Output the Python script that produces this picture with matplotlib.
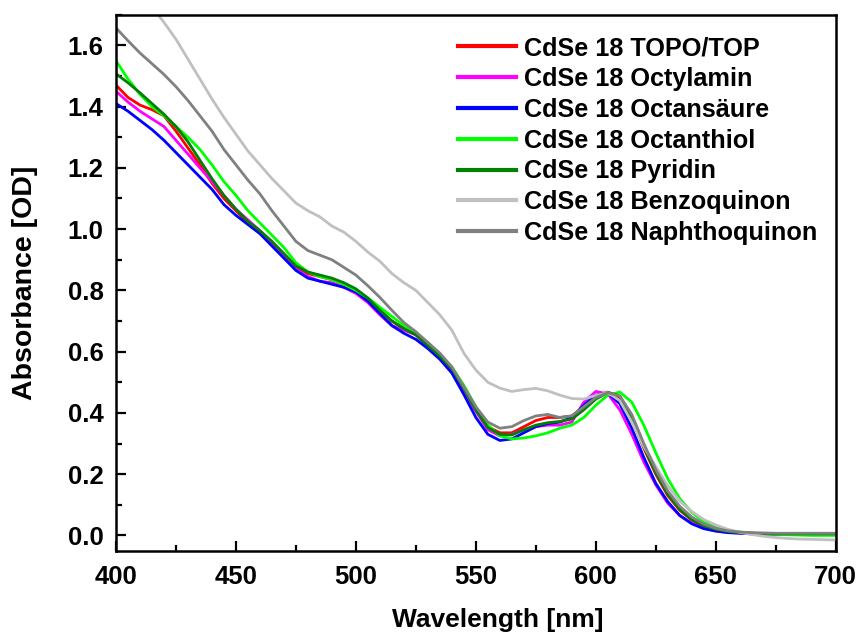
import matplotlib
matplotlib.use("Agg")
import matplotlib.pyplot as plt
from matplotlib.ticker import MultipleLocator

plt.rcParams['font.family'] = ['Liberation Sans', 'DejaVu Sans']
plt.rcParams['font.weight'] = 'bold'

# Wavelength grid in nm
wavelength = list(range(400, 701, 5))

labels = [
    "CdSe 18 TOPO/TOP",
    "CdSe 18 Octylamin",
    "CdSe 18 Octansäure",
    "CdSe 18 Octanthiol",
    "CdSe 18 Pyridin",
    "CdSe 18 Benzoquinon",
    "CdSe 18 Naphthoquinon",
]

topo_top = [1.47, 1.43, 1.405, 1.39, 1.37, 1.32, 1.265, 1.21, 1.15, 1.10, 1.06, 1.02, 0.99, 0.955, 0.915,
            0.875, 0.855, 0.845, 0.835, 0.82, 0.80, 0.77, 0.735, 0.70, 0.675, 0.655, 0.62, 0.585, 0.545, 0.48,
            0.41, 0.355, 0.335, 0.335, 0.355, 0.375, 0.385, 0.385, 0.39, 0.42, 0.455, 0.468, 0.45, 0.38, 0.285,
            0.20, 0.13, 0.082, 0.05, 0.03, 0.02, 0.013, 0.009, 0.007, 0.006, 0.005, 0.005, 0.004, 0.004, 0.004, 0.004]

octylamin = [1.45, 1.415, 1.385, 1.36, 1.335, 1.29, 1.245, 1.20, 1.155, 1.11, 1.065, 1.03, 0.995, 0.955, 0.91,
             0.87, 0.845, 0.83, 0.825, 0.81, 0.79, 0.76, 0.72, 0.685, 0.67, 0.655, 0.615, 0.58, 0.54, 0.475,
             0.405, 0.345, 0.325, 0.33, 0.345, 0.355, 0.36, 0.36, 0.37, 0.435, 0.47, 0.462, 0.41, 0.33, 0.24,
             0.165, 0.105, 0.065, 0.04, 0.024, 0.015, 0.01, 0.008, 0.006, 0.005, 0.005, 0.004, 0.004, 0.004, 0.004, 0.004]

octansaeure = [1.41, 1.385, 1.355, 1.325, 1.29, 1.25, 1.21, 1.17, 1.13, 1.08, 1.045, 1.015, 0.985, 0.945, 0.905,
               0.865, 0.84, 0.83, 0.82, 0.81, 0.795, 0.765, 0.725, 0.685, 0.66, 0.64, 0.61, 0.575, 0.53, 0.46,
               0.385, 0.33, 0.31, 0.315, 0.335, 0.355, 0.365, 0.37, 0.385, 0.425, 0.458, 0.465, 0.43, 0.35, 0.255,
               0.17, 0.11, 0.065, 0.038, 0.022, 0.014, 0.009, 0.007, 0.005, 0.004, 0.003, 0.003, 0.003, 0.003, 0.003, 0.003]

octanthiol = [1.55, 1.49, 1.44, 1.40, 1.37, 1.335, 1.30, 1.26, 1.21, 1.155, 1.11, 1.06, 1.02, 0.98, 0.94,
              0.89, 0.86, 0.845, 0.835, 0.82, 0.80, 0.775, 0.745, 0.715, 0.685, 0.66, 0.63, 0.59, 0.55, 0.49,
              0.42, 0.36, 0.325, 0.315, 0.318, 0.325, 0.335, 0.35, 0.36, 0.385, 0.425, 0.458, 0.468, 0.435, 0.36,
              0.27, 0.185, 0.12, 0.075, 0.045, 0.028, 0.017, 0.011, 0.007, 0.005, 0.003, 0.002, 0.001, 0.0, 0.0, 0.0]

pyridin = [1.507, 1.478, 1.445, 1.41, 1.375, 1.335, 1.285, 1.225, 1.165, 1.11, 1.065, 1.025, 0.995, 0.96, 0.92,
           0.88, 0.86, 0.85, 0.84, 0.825, 0.805, 0.775, 0.735, 0.70, 0.675, 0.655, 0.62, 0.585, 0.545, 0.48,
           0.41, 0.352, 0.33, 0.328, 0.345, 0.36, 0.368, 0.372, 0.38, 0.41, 0.445, 0.467, 0.455, 0.385, 0.29,
           0.205, 0.135, 0.085, 0.052, 0.032, 0.02, 0.013, 0.009, 0.007, 0.006, 0.005, 0.005, 0.005, 0.005, 0.005, 0.005]

benzoquinon = [1.83, 1.80, 1.765, 1.725, 1.675, 1.62, 1.555, 1.49, 1.425, 1.365, 1.31, 1.255, 1.21, 1.165, 1.125,
               1.085, 1.06, 1.04, 1.01, 0.99, 0.96, 0.925, 0.895, 0.855, 0.825, 0.80, 0.76, 0.72, 0.67, 0.595,
               0.54, 0.50, 0.481, 0.47, 0.476, 0.48, 0.472, 0.458, 0.447, 0.445, 0.457, 0.466, 0.44, 0.37, 0.29,
               0.225, 0.162, 0.112, 0.078, 0.052, 0.034, 0.02, 0.01, 0.003, -0.003, -0.007, -0.01, -0.012, -0.013, -0.014, -0.015]

naphthoquinon = [1.657, 1.615, 1.575, 1.54, 1.505, 1.465, 1.42, 1.37, 1.32, 1.26, 1.21, 1.16, 1.115, 1.06, 1.01,
                 0.96, 0.93, 0.915, 0.90, 0.875, 0.85, 0.815, 0.777, 0.735, 0.695, 0.665, 0.63, 0.595, 0.55, 0.485,
                 0.42, 0.37, 0.35, 0.355, 0.375, 0.39, 0.395, 0.385, 0.39, 0.42, 0.45, 0.466, 0.455, 0.395, 0.30,
                 0.215, 0.145, 0.095, 0.06, 0.037, 0.023, 0.015, 0.011, 0.009, 0.008, 0.007, 0.007, 0.007, 0.007, 0.007, 0.007]

series = [topo_top, octylamin, octansaeure, octanthiol, pyridin, benzoquinon, naphthoquinon]
colors = ["#ff0000", "#ff00ff", "#0000ff", "#00ff00", "#008000", "#c0c0c0", "#808080"]

fig = plt.figure(figsize=(8.56, 6.32), dpi=100)
ax = fig.add_axes([0.1355, 0.1286, 0.8408, 0.8481])

for values, color, label in zip(series, colors, labels):
    ax.plot(wavelength, values, color=color, lw=2.0, label=label,
            solid_joinstyle='round')

ax.set_xlim(400, 700)
ax.set_ylim(-0.05, 1.7)
ax.xaxis.set_major_locator(MultipleLocator(50))
ax.xaxis.set_minor_locator(MultipleLocator(25))
ax.yaxis.set_major_locator(MultipleLocator(0.2))
ax.yaxis.set_minor_locator(MultipleLocator(0.1))
ax.yaxis.set_major_formatter(plt.FuncFormatter(lambda v, p: f"{v:.1f}"))

ax.tick_params(which='both', direction='in', top=False, right=False, width=1.6)
ax.tick_params(which='major', length=7.5, labelsize=18.5)
ax.tick_params(axis='x', which='major', pad=10)
ax.tick_params(axis='y', which='major', pad=9)
ax.tick_params(which='minor', length=4)
for lbl in ax.get_xticklabels() + ax.get_yticklabels():
    lbl.set_fontweight('bold')
for sp in ax.spines.values():
    sp.set_linewidth(1.8)

ax.set_xlabel("Wavelength [nm]", fontsize=19, fontweight='bold')
ax.xaxis.set_label_coords(0.531, -0.106)
ax.set_ylabel("Absorbance [OD]", fontsize=20.5, fontweight='bold')
ax.yaxis.set_label_coords(-0.108, 0.5)

leg = ax.legend(loc='upper right', bbox_to_anchor=(0.989, 0.979), frameon=False,
                fontsize=18.2, handlelength=2.3, handletextpad=0.32,
                labelspacing=0.27, borderaxespad=0.0)
for line in leg.get_lines():
    line.set_linewidth(3)
for t in leg.get_texts():
    t.set_fontweight('bold')

fig.savefig("out.png", dpi=100)
